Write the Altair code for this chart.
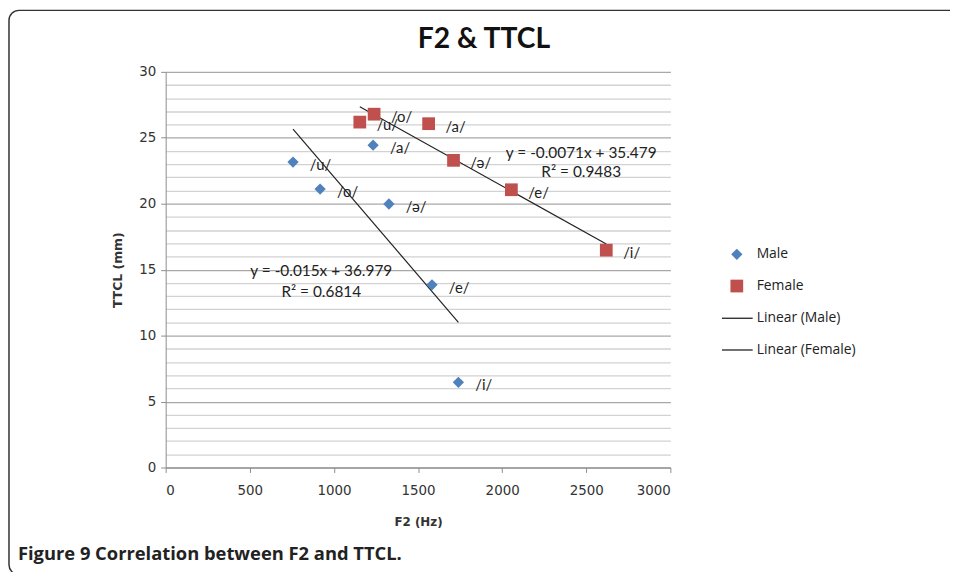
import altair as alt
import pandas as pd

# ---- data ----
vowels = ["/u/", "/o/", "/a/", "/ə/", "/e/", "/i/"]
male_f2 = [757, 918, 1233, 1327, 1583, 1740]
male_ttcl = [23.16, 21.11, 24.44, 19.98, 13.85, 6.46]
female_f2 = [1154, 1239, 1563, 1711, 2055, 2619]
female_ttcl = [26.19, 26.79, 26.07, 23.29, 21.06, 16.48]

eq_text = ["y = -0.0071x + 35.479", "R² = 0.9483", "y = -0.015x + 36.979", "R² = 0.6814"]
eq_f2 = [2470, 2470, 925, 925]
eq_ttcl = [23.84, 22.38, 14.9, 13.3]

point_domain = ["Male", "Female"]
point_colors = ["#4F81BD", "#C0504D"]
point_shapes = ["diamond", "square"]
point_sizes = [130, 165]
line_domain = ["Linear (Male)", "Linear (Female)"]
line_colors = ["#222222", "#222222"]

x_ticks = [0, 500, 1000, 1500, 2000, 2500, 3000]
y_ticks = list(range(0, 31))

title_text = "F2 & TTCL"
caption_text = "Figure 9 Correlation between F2 and TTCL."

pts = pd.DataFrame({
    "F2": male_f2 + female_f2,
    "TTCL": male_ttcl + female_ttcl,
    "sex": ["Male"] * len(male_f2) + ["Female"] * len(female_f2),
    "vowel": vowels + vowels,
})

eqs = pd.DataFrame({"F2": eq_f2, "TTCL": eq_ttcl, "t": eq_text})

AXC = "#8c8c8c"
pleg = alt.Legend(
    title=None, orient="none", legendX=569, legendY=177,
    labelFont="Open Sans", labelFontSize=14, labelColor="#222",
    labelOffset=13, rowPadding=18, symbolStrokeWidth=0, padding=0,
)
lleg = alt.Legend(
    title=None, orient="none", legendX=560, legendY=232,
    labelFont="Open Sans", labelFontSize=14, labelColor="#222",
    labelOffset=3, rowPadding=8, symbolType="stroke", symbolSize=961,
    symbolStrokeWidth=1.3, padding=0,
)

xenc = alt.X(
    "F2:Q",
    scale=alt.Scale(domain=[0, 3000], nice=False),
    axis=alt.Axis(
        title="F2 (Hz)", values=x_ticks, format="d", grid=False, tickSize=5,
        domainColor=AXC, tickColor=AXC, labelFont="DejaVu Sans",
        labelFontSize=13.5, labelColor="#333", labelPadding=11,
        titleFont="DejaVu Sans", titleFontSize=12, titleFontWeight="bold",
        titleColor="#333", titlePadding=20,
    ),
)
yenc = alt.Y(
    "TTCL:Q",
    scale=alt.Scale(domain=[0, 30], nice=False),
    axis=alt.Axis(
        title="TTCL (mm)", values=y_ticks,
        labelExpr="datum.value % 5 === 0 ? datum.label : ''",
        grid=True,
        gridColor={"condition": {"test": "datum.value % 5 === 0", "value": "#a8a8a8"}, "value": "#d2d2d2"},
        gridWidth=1.3,
        tickOpacity={"condition": {"test": "datum.value % 5 === 0", "value": 1}, "value": 0},
        tickSize=5, domainColor=AXC, tickColor=AXC,
        labelFont="DejaVu Sans", labelFontSize=13.5, labelColor="#333", labelPadding=5,
        titleFont="DejaVu Sans", titleFontSize=12.5, titleFontWeight="bold",
        titleColor="#333", titlePadding=14,
    ),
)

base = alt.Chart(pts)

lines = base.transform_regression(
    "F2", "TTCL", groupby=["sex"]
).transform_calculate(
    series='"Linear (" + datum.sex + ")"'
).mark_line(strokeWidth=1.2).encode(
    x=xenc, y=yenc,
    stroke=alt.Stroke("series:N", scale=alt.Scale(domain=line_domain, range=line_colors), legend=lleg),
)

points = base.mark_point(filled=True, opacity=1, strokeWidth=0).encode(
    x=xenc, y=yenc,
    fill=alt.Fill("sex:N", scale=alt.Scale(domain=point_domain, range=point_colors), legend=pleg),
    shape=alt.Shape("sex:N", scale=alt.Scale(domain=point_domain, range=point_shapes), legend=pleg),
    size=alt.Size("sex:N", scale=alt.Scale(type="ordinal", domain=point_domain, range=point_sizes), legend=pleg),
)

labels = base.mark_text(
    align="left", baseline="middle", dx=17, dy=3, font="Lato", fontSize=15, color="#222"
).encode(x=xenc, y=yenc, text="vowel:N")

eq_layer = alt.Chart(eqs).mark_text(
    align="center", baseline="middle", font="Lato", fontSize=15.5, color="#222"
).encode(x=xenc, y=yenc, text="t:N")

title = alt.Chart(pd.DataFrame({"t": [title_text]})).mark_text(
    align="center", baseline="middle", font="Lato", fontSize=28.5, fontWeight="bold", color="#111"
).encode(text="t:N", x=alt.value(321), y=alt.value(-33))

caption = alt.Chart(pd.DataFrame({"t": [caption_text]})).mark_text(
    align="left", baseline="middle", font="Open Sans", fontSize=18.5, fontWeight="bold", color="#222"
).encode(text="t:N", x=alt.value(-149), y=alt.value(486))

border = alt.Chart(pd.DataFrame({"a": [0]})).mark_rect(
    fillOpacity=0, stroke="#333", strokeWidth=1.5, cornerRadius=10
).encode(x=alt.value(-158), y=alt.value(-62), x2=alt.value(1000), y2=alt.value(507))

chart = alt.layer(border, lines, points, labels, eq_layer, title, caption).properties(
    width=509, height=399,
    padding={"left": 159, "top": 62, "right": 282, "bottom": 103},
    autosize=alt.AutoSizeParams(type="none"),
).configure_view(strokeWidth=0)

chart.save("out.html", embed_options={"renderer": "svg", "actions": False})
